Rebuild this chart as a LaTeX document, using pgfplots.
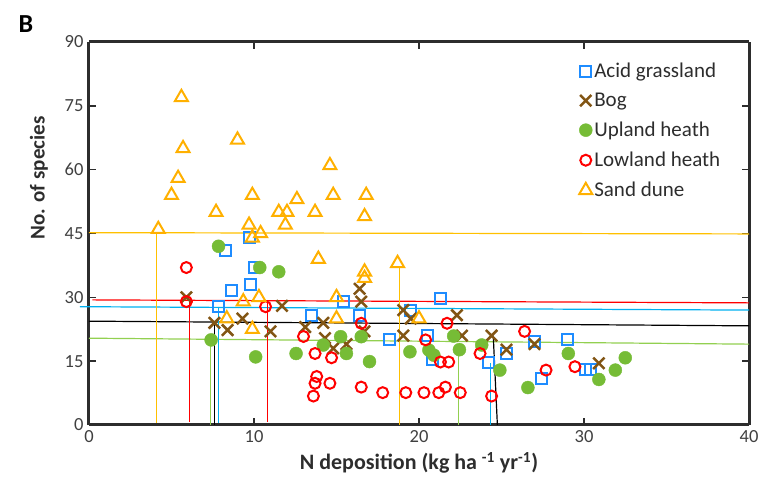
\documentclass[border=0pt]{standalone}
\usepackage{pgfplots}
\pgfplotsset{compat=1.18}
\usepackage{fontspec}
\setmainfont{Carlito}
\definecolor{cblue}{RGB}{30,140,255}
\definecolor{lblue}{RGB}{0,176,240}
\definecolor{cbrown}{RGB}{130,85,20}
\definecolor{cgreen}{RGB}{118,188,54}
\definecolor{lgreen}{RGB}{146,208,80}
\definecolor{cred}{RGB}{255,0,0}
\definecolor{corange}{RGB}{255,176,0}
\definecolor{lyellow}{RGB}{255,192,0}
\definecolor{axgray}{RGB}{45,45,45}
\definecolor{tickgray}{RGB}{64,64,64}
\begin{document}
\begin{tikzpicture}
\useasboundingbox (-89pt,-64pt) rectangle (674pt,425pt);
\begin{axis}[
  at={(0pt,0pt)}, anchor=south west,
  scale only axis, width=660pt, height=383pt,
  xmin=0, xmax=40, ymin=0, ymax=90,
  xtick={0,10,20,30,40}, ytick={0,15,30,45,60,75,90},
  clip=false,
  separate axis lines,
  axis line style={line width=3pt, draw=axgray},
  every outer x axis line/.append style={line width=3pt, draw=axgray},
  every outer y axis line/.append style={line width=3pt, draw=axgray},
  tick style={line width=1.6pt, draw=axgray},
  major tick length=7pt,
  tick align=inside,
  /pgf/number format/assume math mode=true,
  tick label style={font=\fontsize{18.5}{18.5}\selectfont, text=tickgray},
  xticklabel style={yshift=-2pt},
  yticklabel style={xshift=-2pt},
  xlabel={N deposition (kg ha \textsuperscript{-1} yr\textsuperscript{-1})},
  ylabel={No. of species},
  xlabel style={at={(axis description cs:0.5,0)}, anchor=center, yshift=-38pt,
    font=\bfseries\fontsize{22}{22}\selectfont, text=axgray},
  ylabel style={at={(axis description cs:-0.076,0.645)}, anchor=center,
    font=\bfseries\fontsize{21}{21}\selectfont, text=axgray},
  legend style={at={(rel axis cs:0.738,0.956)}, anchor=north west, draw=none, fill=none,
    font=\fontsize{21}{21}\selectfont, text=axgray, row sep=10pt},
  legend cell align=left,
]
% Acid grassland
\addplot[only marks, mark=square, mark size=5.5pt, line width=2pt, draw=cblue] coordinates {
(8.3,41) (9.7,44) (10.0,37) (9.8,33) (8.65,31.7) (7.85,27.8) (13.5,25.8) (15.4,29)
(16.4,25.8) (18.2,20) (19.5,27) (21.3,29.8) (20.5,21) (20.8,15.5) (24.2,14.7)
(25.3,16.8) (27.0,19.6) (27.4,11) (29.0,20) (30.1,13) (30.4,13)
};
\addlegendentry{Acid grassland}
% Bog
\addplot[only marks, mark=x, mark size=8pt, line width=2.5pt, draw=cbrown] coordinates {
(5.9,30) (7.6,24) (8.4,22.3) (9.3,25) (11.0,22) (11.7,28) (13.1,23) (14.2,24)
(14.3,20.4) (14.8,18) (15.6,19) (16.4,32) (16.5,29) (16.7,22) (19.05,27) (19.5,25)
(19.05,21) (22.3,25.8) (22.6,21) (24.4,21) (25.3,17.7) (27.0,19) (30.9,14.5)
};
\addlegendentry{Bog}
% Upland heath
\addplot[only marks, mark=*, mark size=6.5pt, draw=cgreen, fill=cgreen] coordinates {
(7.85,42) (10.35,37) (11.5,36) (7.4,20) (10.1,16) (12.55,16.8) (14.2,18.8)
(15.25,20.75) (15.6,16.8) (16.5,20.75) (17.0,14.9) (19.45,17.2) (20.6,17.6)
(20.9,16.4) (22.1,20.9) (22.45,17.7) (23.8,18.8) (24.9,12.9) (26.6,8.8)
(29.05,16.8) (30.9,10.7) (31.9,12.9) (32.5,15.8)
};
\addlegendentry{Upland heath}
% Lowland heath
\addplot[only marks, mark=o, mark size=5.5pt, line width=2pt, draw=cred] coordinates {
(5.9,37) (5.9,29) (10.7,27.8) (13.0,20.8) (13.7,16.8) (14.7,15.8) (16.5,23.9)
(13.8,11.4) (13.7,9.8) (14.6,9.8) (13.6,6.8) (16.5,8.9) (17.8,7.6) (19.2,7.6)
(20.3,7.6) (21.2,7.6) (21.6,8.9) (22.5,7.6) (24.4,6.8) (20.4,20) (21.3,14.8)
(21.8,14.8) (21.7,23.9) (23.7,16.8) (26.4,22) (27.7,12.9) (29.45,13.7)
};
\addlegendentry{Lowland heath}
% Sand dune
\addplot[only marks, mark=triangle, mark size=7.5pt, line width=2pt, draw=corange] coordinates {
(5.6,77) (9.0,67) (5.7,65) (5.4,58) (5.0,54) (14.6,61) (9.9,54) (12.6,53) (14.8,54)
(16.8,54) (7.7,50) (11.5,50) (12.0,50) (13.7,50) (16.7,49) (11.9,47) (9.7,47)
(4.2,46) (10.4,45) (9.9,44) (13.9,39) (16.7,36) (16.7,34.5) (18.7,38) (9.35,29)
(10.3,30) (15.0,30) (8.35,25) (9.9,22.5) (15.0,25) (20.0,25)
};
\addlegendentry{Sand dune}
% reference lines
\addplot[forget plot, no marks, line width=1.2pt, lyellow] coordinates {(0,45.2) (40,44.9)};
\addplot[forget plot, no marks, line width=1.2pt, cred] coordinates {(0.2,29.4) (40,28.7)};
\addplot[forget plot, no marks, line width=1.2pt, lblue] coordinates {(-0.55,27.8) (40,27.0)};
\addplot[forget plot, no marks, line width=1.2pt, black] coordinates {(0,24.4) (40,23.3)};
\addplot[forget plot, no marks, line width=1.2pt, lgreen] coordinates {(0,20.4) (40,19.0)};
\addplot[forget plot, no marks, line width=1.2pt, lyellow] coordinates {(4.1,45.2) (4.1,0.5)};
\addplot[forget plot, no marks, line width=1.2pt, cred] coordinates {(6.1,29.3) (6.1,0.8)};
\addplot[forget plot, no marks, line width=1.2pt, lgreen] coordinates {(7.35,20.3) (7.35,0)};
\addplot[forget plot, no marks, line width=1.2pt, black] coordinates {(7.6,24.4) (7.6,0)};
\addplot[forget plot, no marks, line width=1.2pt, lblue] coordinates {(7.85,27.8) (7.85,0.5)};
\addplot[forget plot, no marks, line width=1.2pt, cred] coordinates {(10.8,29.0) (10.8,0.8)};
\addplot[forget plot, no marks, line width=1.2pt, lyellow] coordinates {(18.8,37.3) (18.8,0)};
\addplot[forget plot, no marks, line width=1.2pt, lgreen] coordinates {(22.4,17.6) (22.4,0)};
\addplot[forget plot, no marks, line width=1.2pt, lblue] coordinates {(24.35,14.5) (24.35,0)};
\addplot[forget plot, no marks, line width=1.2pt, black] coordinates {(24.5,21) (24.75,0)};
\end{axis}
\node[font=\bfseries\fontsize{26}{26}\selectfont, text=black] at (-63pt,401pt) {B};
\end{tikzpicture}
\end{document}
